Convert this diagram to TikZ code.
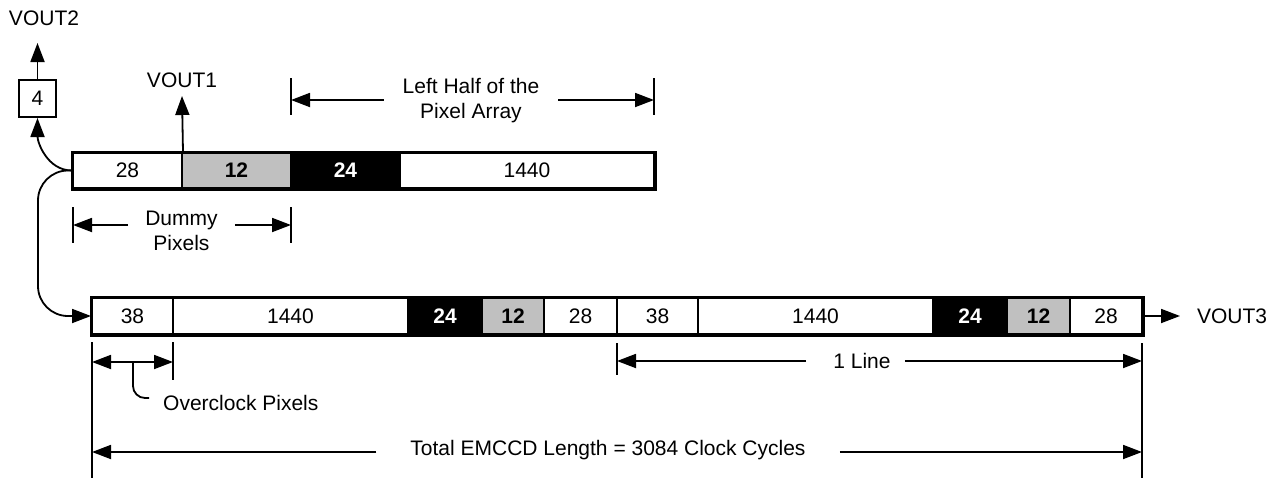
\documentclass[tikz,border=0pt]{standalone}
\usepackage{fontspec}
\setmainfont{Liberation Sans}
\usetikzlibrary{arrows.meta,calc}
\definecolor{cellgray}{RGB}{192,192,192}
\tikzset{
  lbl/.style={font=\fontsize{21}{25}\selectfont},
  cellT/.style={draw, line width=2pt, inner sep=0pt, minimum height=35pt, lbl},
  cellB/.style={draw, line width=2pt, inner sep=0pt, minimum height=36pt, lbl},
  grayc/.style={fill=cellgray, font=\fontsize{21}{25}\selectfont\bfseries},
  blackc/.style={fill=black, text=white, font=\fontsize{21}{25}\selectfont\bfseries},
  frame/.style={draw, line width=3pt},
  ln/.style={line width=1.8pt},
  arr/.style={line width=1.8pt, -{Triangle[length=19pt,width=14pt]}},
  arrboth/.style={line width=1.8pt, {Triangle[length=19pt,width=14pt]}-{Triangle[length=19pt,width=14pt]}},
  numbox/.style={draw, line width=2pt, inner sep=0pt, minimum size=37pt, lbl},
}
\begin{document}
\begin{tikzpicture}[x=1pt,y=-1pt]
\useasboundingbox (0,0) rectangle (1278,479);
% top bar
\node[cellT, minimum width=109pt] (t1) at (127.5,170.5) {28};
\node[cellT, grayc, minimum width=109pt] (t2) at (236.5,170.5) {12};
\node[cellT, blackc, minimum width=109pt] (t3) at (345.5,170.5) {24};
\node[cellT, minimum width=254pt] (t4) at (527,170.5) {1440};
\draw[frame] (t1.north west) rectangle (t4.south east);
% bottom bar
\node[cellB, minimum width=81pt] (b1) at (132.5,316) {38};
\node[cellB, minimum width=235pt] (b2) at (290.5,316) {1440};
\node[cellB, blackc, minimum width=74pt] (b3) at (445,316) {24};
\node[cellB, grayc, minimum width=62pt] (b4) at (513,316) {12};
\node[cellB, minimum width=73pt] (b5) at (580.5,316) {28};
\node[cellB, minimum width=81pt] (b6) at (657.5,316) {38};
\node[cellB, minimum width=235pt] (b7) at (815.5,316) {1440};
\node[cellB, blackc, minimum width=74pt] (b8) at (970,316) {24};
\node[cellB, grayc, minimum width=63pt] (b9) at (1038.5,316) {12};
\node[cellB, minimum width=72pt] (b10) at (1106,316) {28};
\draw[frame] (b1.north west) rectangle (b10.south east);
% outputs
\node[lbl] (vout1) at (182,80) {VOUT1};
\coordinate (v1tip) at (182,96);
\draw[arr] (t1.north east) -- (v1tip);
\node[numbox] (four) at (37.5,98.5) {4};
\coordinate (v2tip) at (37.5,43);
\draw[arr] (four.north) -- (v2tip);
\node[lbl] (vout2) at (44,18) {VOUT2};
\draw[arr] (t1.west) to[out=180,in=-90] (four.south);
\coordinate (lc) at (38,316);
\draw[arr, rounded corners=30pt] (t1.west) -| (lc) -- (b1.west);
\node[lbl] (vout3) at (1232,316) {VOUT3};
\coordinate (v3tip) at (1180,316);
\draw[arr] (b10.east) -- (v3tip);
% Left half dimension
\node[lbl, align=center, inner xsep=19pt, inner ysep=0pt] (lh) at (471,100.5) {Left Half of the\\Pixel Array};
\coordinate (lhL) at (291,100);
\coordinate (lhR) at (654,100);
\draw[ln] ([yshift=22pt]lhL) -- ([yshift=-15pt]lhL);
\draw[ln] ([yshift=22pt]lhR) -- ([yshift=-15pt]lhR);
\draw[arr] (lh.west |- lhL) -- (lhL);
\draw[arr] (lh.east |- lhR) -- (lhR);
% Dummy pixels dimension
\node[lbl, align=center, inner xsep=17pt, inner ysep=0pt] (dp) at (181.5,230.5) {Dummy\\Pixels};
\coordinate (dL) at (73,225);
\coordinate (dR) at (291,225);
\draw[ln] ([yshift=18pt]dL) -- ([yshift=-18pt]dL);
\draw[ln] ([yshift=18pt]dR) -- ([yshift=-18pt]dR);
\draw[arr] (dp.west |- dL) -- (dL);
\draw[arr] (dp.east |- dR) -- (dR);
% long ticks
\coordinate (lt1) at (92,342);
\coordinate (lt2) at (92,478);
\coordinate (rt1) at (1142,343);
\coordinate (rt2) at (1142,478);
\draw[ln] (lt1) -- (lt2);
\draw[ln] (rt1) -- (rt2);
% Overclock pixels
\coordinate (ocL) at (92,362);
\coordinate (ocR) at (173,362);
\draw[ln] ([yshift=20pt]ocR) -- ([yshift=-18pt]ocR);
\draw[arrboth] (ocL) -- (ocR);
\coordinate (ocm) at (133,362);
\node[lbl, anchor=west, inner sep=0pt] (ocl) at (163,403) {Overclock Pixels};
\draw[ln, rounded corners=12pt] (ocm) |- ([xshift=-14pt,yshift=5pt]ocl.west);
% 1 Line
\node[lbl, inner sep=0pt] (one) at (862,361) {1 Line};
\coordinate (olL) at (617,361);
\coordinate (olR) at (1142,361);
\draw[ln] ([yshift=18pt]olL) -- ([yshift=-14pt]olL);
\draw[arr] ([xshift=-27pt]one.west) -- (olL);
\draw[arr] ([xshift=14pt]one.east) -- (olR);
% Total length
\node[lbl, inner sep=0pt] (tot) at (608,450) {Total EMCCD Length = 3084 Clock Cycles};
\coordinate (totL) at (92,452);
\coordinate (totR) at (1142,452);
\draw[arr] (tot.west |- totL) ++(-34pt,0) -- (totL);
\draw[arr] (tot.east |- totR) ++(34pt,0) -- (totR);
\end{tikzpicture}
\end{document}
